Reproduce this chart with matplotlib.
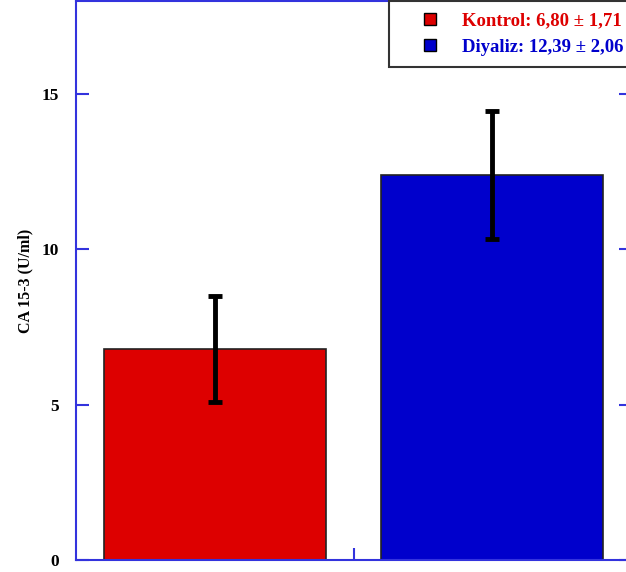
import matplotlib
matplotlib.use("Agg")
import matplotlib.pyplot as plt
from matplotlib.lines import Line2D

categories = ["Kontrol", "Diyaliz"]
means = [6.80, 12.39]
errors = [1.71, 2.06]
colors = ["#DD0000", "#0000CC"]
legend_labels = ["Kontrol: 6,80 \u00b1 1,71", "Diyaliz: 12,39 \u00b1 2,06"]
yticks = [0, 5, 10, 15]
ylabel = "CA 15-3 (U/ml)"

W, H = 626, 572
fig = plt.figure(figsize=(W / 100, H / 100), dpi=100)
ax = fig.add_axes([76 / W, 12 / H, 555 / W, 559 / H])

fam = ["Liberation Serif", "DejaVu Serif"]
font = {"family": fam, "weight": "bold"}

x = [0, 1]
ax.bar(x, means, width=0.8, color=colors, edgecolor="#222222", linewidth=1.2, zorder=2)
ax.errorbar(x, means, yerr=errors, fmt="none", ecolor="black", elinewidth=3.5,
            capsize=5, capthick=3.5, zorder=3)

ax.set_xlim(-0.5, 1.5)
ax.set_ylim(0, 18)
ax.set_yticks(yticks)
ax.set_yticklabels([str(t) for t in yticks], fontdict=font, fontsize=12.5)
ax.set_xticks([0.5])
ax.set_xticklabels([""])
for s in ax.spines.values():
    s.set_color("#3333DD")
    s.set_linewidth(1.5)
ax.tick_params(axis="y", direction="in", length=9, width=1.5, color="#3333DD",
               right=True, pad=12)
ax.tick_params(axis="x", direction="in", length=9, width=1.5, color="#3333DD")
ax.set_ylabel(ylabel, fontdict=font, fontsize=11.5, labelpad=6)

handles = [Line2D([], [], linestyle="none", marker="s", markersize=8.6,
                  markerfacecolor=c, markeredgecolor="black", markeredgewidth=1)
           for c in colors]
leg = fig.legend(handles, legend_labels, loc="upper left",
                 bbox_to_anchor=(389 / W, 1 - 1 / H), bbox_transform=fig.transFigure,
                 prop={"family": fam, "weight": "bold", "size": 13.5},
                 labelcolor=colors, frameon=True, fancybox=False, borderpad=0.6,
                 handlelength=3.2, handletextpad=0.1, labelspacing=0.5, borderaxespad=0)
leg.get_frame().set_edgecolor("#333333")
leg.get_frame().set_linewidth(1.5)
leg.get_frame().set_alpha(1)

fig.savefig("out.png", dpi=100)
